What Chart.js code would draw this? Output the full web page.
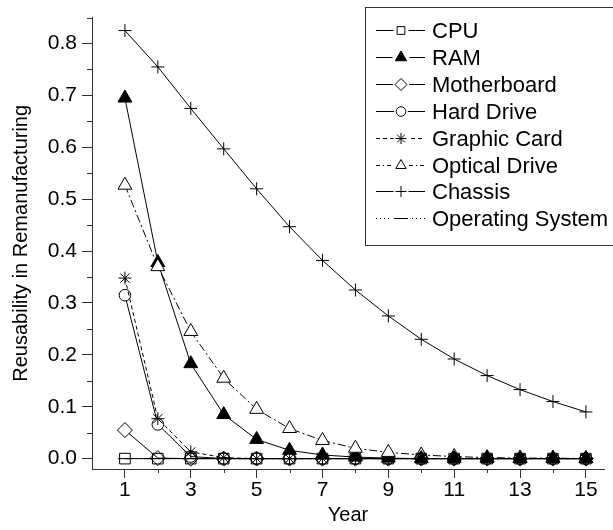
<!DOCTYPE html>
<html>
<head>
  <title>Reusability</title>
  <script src="https://cdn.jsdelivr.net/npm/chart.js"></script>
  <style>
    body { margin: 0; padding: 0; background: #fff; }
    #chart-container { width: 613px; height: 530px; }
  </style>
</head>
<body>
  <div id="chart-container">
    <canvas id="myChart"></canvas>
  </div>

  <script>
    const years = [1, 2, 3, 4, 5, 6, 7, 8, 9, 10, 11, 12, 13, 14, 15];
    const cpu = [0, 0, 0, 0, 0, 0, 0, 0, 0, 0, 0, 0, 0, 0, 0];
    const ram = [0.695, 0.378, 0.183, 0.085, 0.037, 0.016, 0.007, 0.003, 0.001, 0, 0, 0, 0, 0, 0];
    const motherboard = [0.055, 0.001, 0, 0, 0, 0, 0, 0, 0, 0, 0, 0, 0, 0, 0];
    const hardDrive = [0.315, 0.066, 0.004, 0, 0, 0, 0, 0, 0, 0, 0, 0, 0, 0, 0];
    const graphicCard = [0.348, 0.077, 0.013, 0.002, 0, 0, 0, 0, 0, 0, 0, 0, 0, 0, 0];
    const opticalDrive = [0.527, 0.37, 0.245, 0.155, 0.095, 0.058, 0.035, 0.02, 0.012, 0.007, 0.004, 0.002, 0.001, 0.001, 0];
    const chassis = [0.825, 0.755, 0.675, 0.597, 0.52, 0.447, 0.382, 0.325, 0.275, 0.23, 0.192, 0.16, 0.133, 0.11, 0.09];
    const operatingSystem = [0, 0, 0, 0, 0, 0, 0, 0, 0, 0, 0, 0, 0, 0, 0];
    const yTicks = [0, 0.1, 0.2, 0.3, 0.4, 0.5, 0.6, 0.7, 0.8];
    const xLabelled = [1, 3, 5, 7, 9, 11, 13, 15];

    const FONT = '"Liberation Sans", Arial, sans-serif';
    const AXIS = '#333';

    // open markers: white where alone, see-through where they pile up at zero
    const openFill = c => (c.raw && c.raw.y < 0.01 ? 'rgba(255,255,255,0)' : '#fff');

    function serie(i, label, values, style, radius, legendRadius, fill, dash, legendDash) {
      return {
        label: label,
        order: 8 - i,
        data: years.map((y, k) => ({ x: y, y: values[k] })),
        borderColor: '#000',
        borderWidth: 1,
        borderDash: dash,
        legendDash: legendDash || dash,
        legendRadius: legendRadius,
        legendFill: fill === '#000' ? '#000' : '#fff',
        pointStyle: style,
        pointRadius: radius,
        pointBorderColor: '#000',
        pointBackgroundColor: fill,
        pointBorderWidth: 1,
        tension: 0
      };
    }

    const datasets = [
      serie(0, 'CPU', cpu, 'rect', 7.5, 5.5, openFill, []),
      serie(1, 'RAM', ram, 'triangle', 8, 6.5, '#000', []),
      serie(2, 'Motherboard', motherboard, 'rectRot', 7.5, 6, openFill, []),
      serie(3, 'Hard Drive', hardDrive, 'circle', 5.8, 4.8, openFill, []),
      serie(4, 'Graphic Card', graphicCard, 'star', 6.5, 5.5, openFill, [4, 3]),
      serie(5, 'Optical Drive', opticalDrive, 'triangle', 8, 6, openFill, [8, 3, 2, 3], [4, 3, 1, 3]),
      serie(6, 'Chassis', chassis, 'cross', 6.5, 5.5, openFill, []),
      serie(7, 'Operating System', operatingSystem, 'line', 7, 7, '#000', [8, 3, 1, 3, 1, 3], [1, 3])
    ];

    // minor ticks + legend box
    const extras = {
      id: 'extras',
      afterDraw(chart) {
        const c = chart.ctx;
        const ys = chart.scales.y, xs = chart.scales.x;
        c.save();
        c.strokeStyle = AXIS;
        c.lineWidth = 1;
        for (let v = 0.05; v < 0.85; v += 0.1) {
          const p = Math.round(ys.getPixelForValue(v)) + 0.5;
          c.beginPath();
          c.moveTo(ys.right - 5, p);
          c.lineTo(ys.right, p);
          c.stroke();
        }
        years.filter(v => v % 2 === 0).forEach(v => {
          const p = Math.round(xs.getPixelForValue(v)) + 0.5;
          c.beginPath();
          c.moveTo(p, xs.top);
          c.lineTo(p, xs.top + 4);
          c.stroke();
        });
        c.restore();

        // legend
        const lx = 365, ly = 7, lw = 260, lh = 238;
        c.save();
        c.fillStyle = '#fff';
        c.fillRect(lx, ly, lw, lh);
        c.strokeStyle = AXIS;
        c.lineWidth = 1;
        c.strokeRect(lx + 0.5, ly + 0.5, lw, lh);
        c.font = '22px ' + FONT;
        c.textBaseline = 'middle';
        chart.data.datasets.forEach((ds, i) => {
          const y = Math.round(30 + i * 26.9) + 0.5;
          c.strokeStyle = '#000';
          c.lineWidth = 1;
          c.setLineDash(ds.legendDash);
          c.beginPath();
          c.moveTo(376, y);
          c.lineTo(425, y);
          c.stroke();
          c.setLineDash([]);
          c.fillStyle = '#fff';
          c.fillRect(401 - ds.legendRadius - 2, y - ds.legendRadius, ds.legendRadius * 2 + 4, ds.legendRadius * 2);
          c.fillStyle = ds.legendFill;
          c.strokeStyle = '#000';
          Chart.helpers.drawPoint(c, { pointStyle: ds.pointStyle, radius: ds.legendRadius, borderWidth: 1 }, 401, y);
          c.fillStyle = '#000';
          c.fillText(ds.label, 432, y + 1);
        });
        c.restore();
      }
    };

    const ctx = document.getElementById('myChart').getContext('2d');
    const chart = new Chart(ctx, {
      type: 'line',
      data: { datasets: datasets },
      options: {
        responsive: true,
        maintainAspectRatio: false,
        animation: false,
        layout: { padding: { top: 13, right: 1, left: 0, bottom: 0 } },
        plugins: { legend: { display: false }, tooltip: { enabled: false } },
        scales: {
          x: {
            type: 'linear',
            min: 0,
            max: 15.55,
            afterBuildTicks: s => { s.ticks = xLabelled.map(v => ({ value: v })); },
            afterFit: s => { s.height = 61; },
            border: { display: true, color: AXIS, width: 1 },
            grid: { drawOnChartArea: false, drawTicks: true, tickLength: 9, color: AXIS },
            ticks: {
              color: '#000',
              font: { family: FONT, size: 21 },
              padding: 0,
              maxRotation: 0,
              autoSkip: false,
              callback: v => String(v)
            },
            title: { display: true, text: 'Year', color: '#000', font: { family: FONT, size: 20 }, padding: { top: 0, bottom: 3 } }
          },
          y: {
            min: -0.02,
            max: 0.85,
            afterBuildTicks: s => { s.ticks = yTicks.map(v => ({ value: v })); },
            afterFit: s => { s.width = 92; },
            border: { display: true, color: AXIS, width: 1 },
            grid: { drawOnChartArea: false, drawTicks: true, tickLength: 10, color: AXIS },
            ticks: {
              color: '#000',
              font: { family: FONT, size: 21 },
              padding: 5,
              callback: v => v.toFixed(1)
            },
            title: { display: true, text: 'Reusability in Remanufacturing', color: '#000', font: { family: FONT, size: 20 }, padding: { top: 9, bottom: 0 } }
          }
        }
      },
      plugins: [extras]
    });
  </script>
</body>
</html>
